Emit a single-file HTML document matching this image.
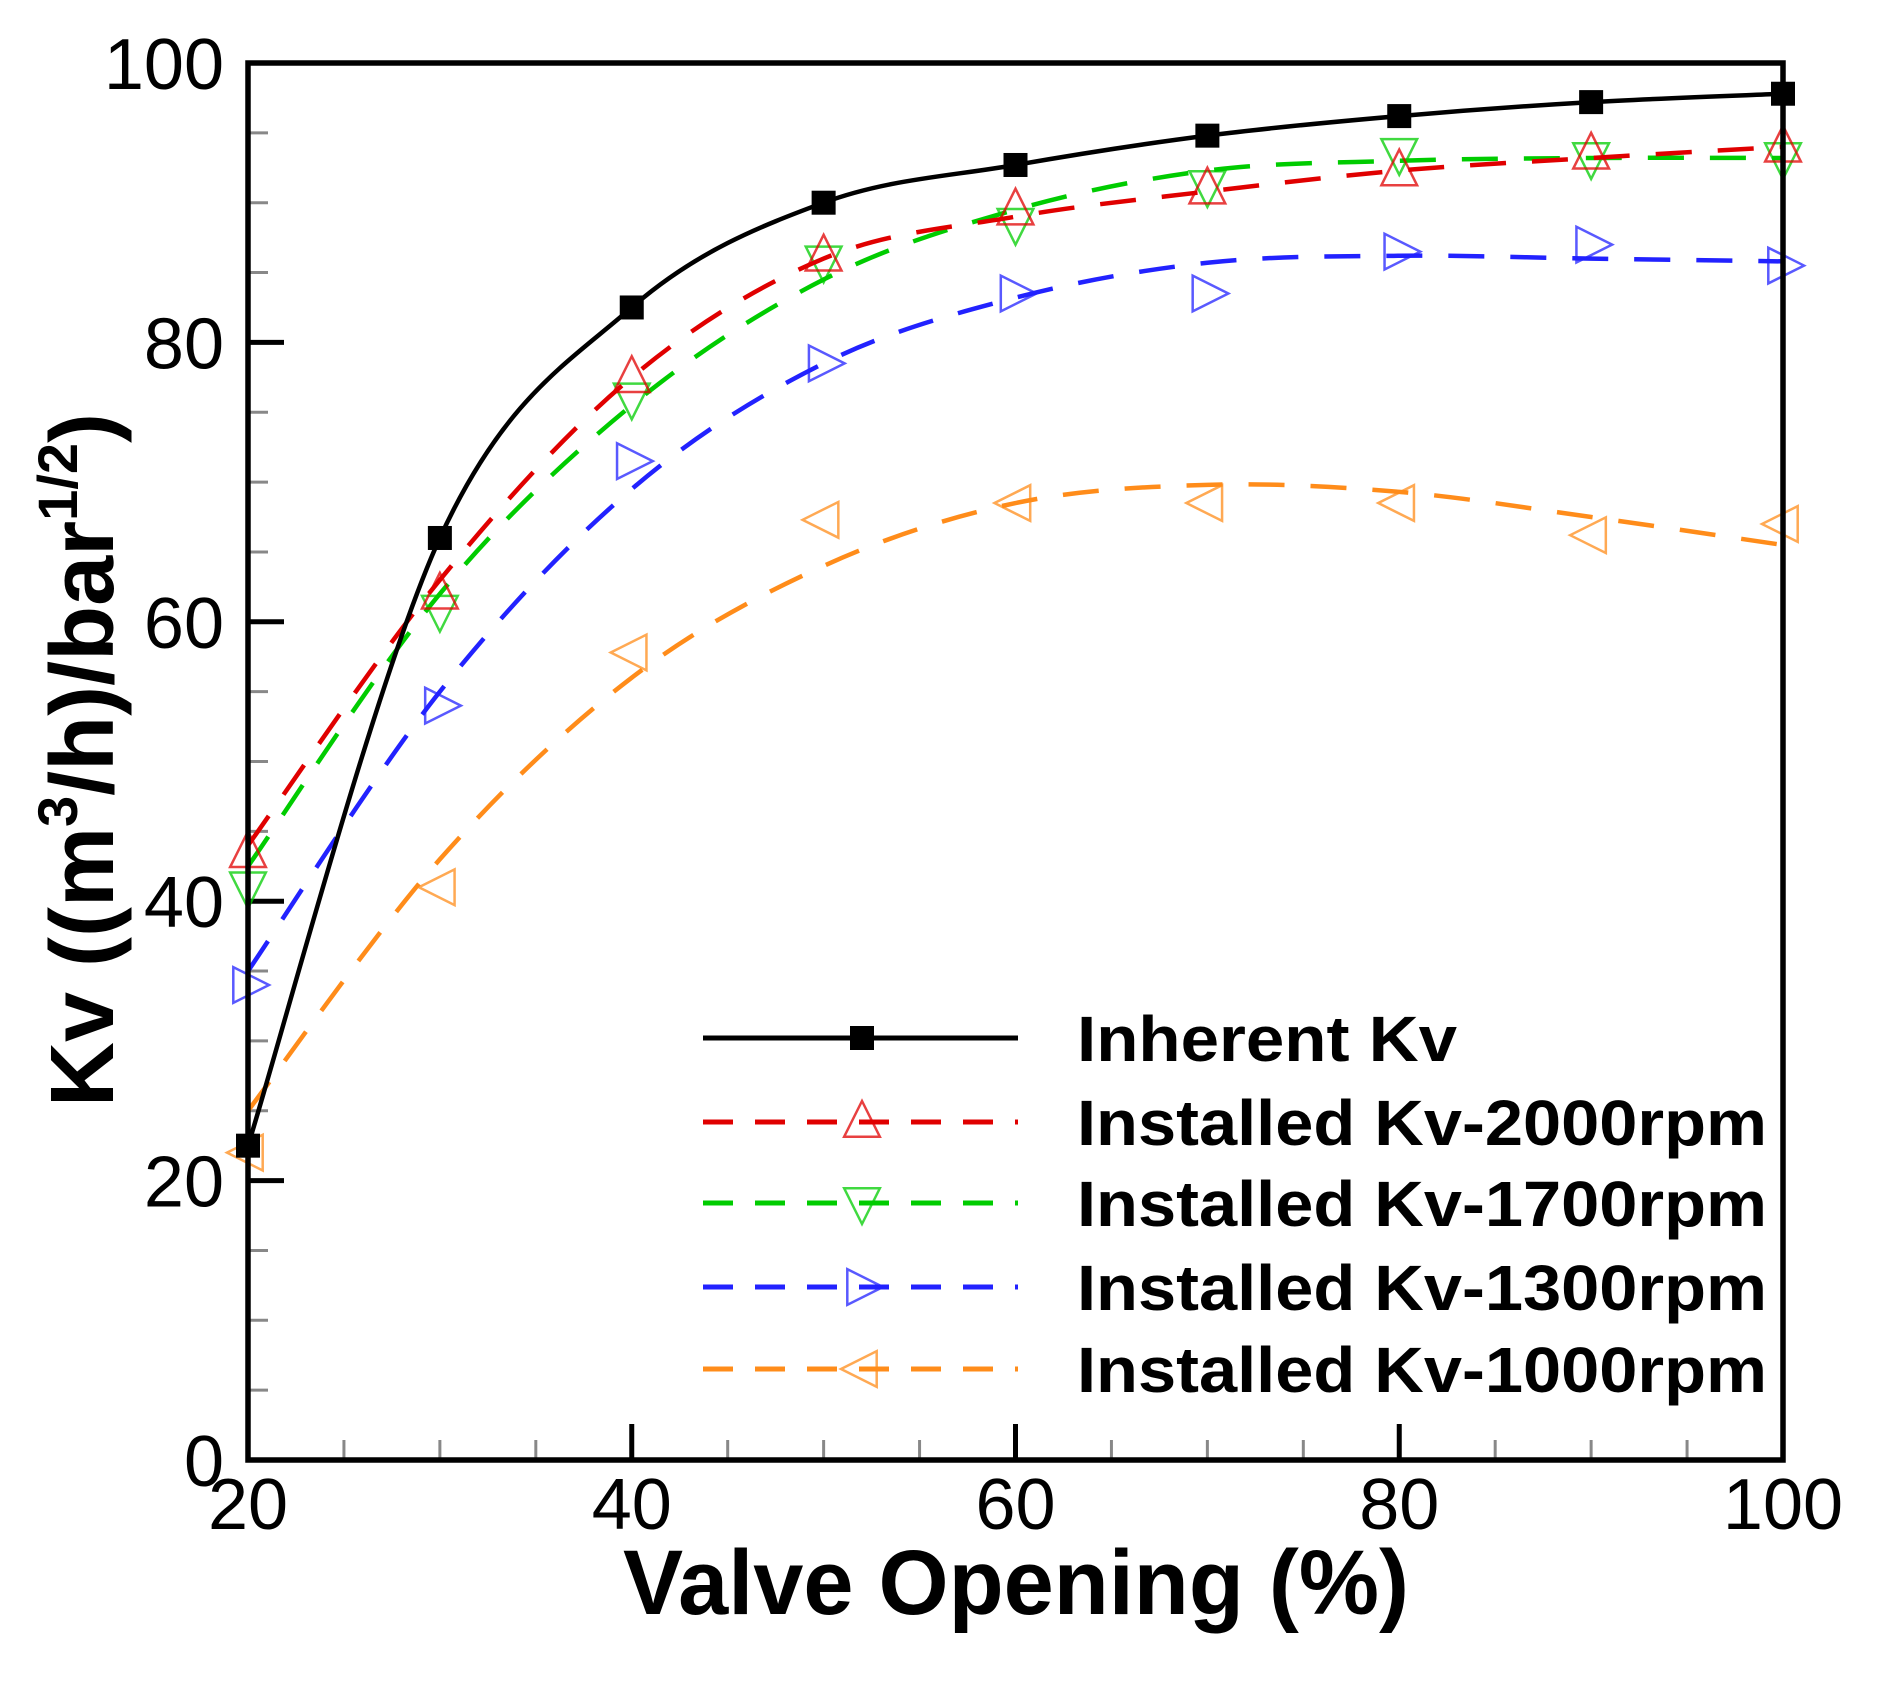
<!DOCTYPE html>
<html><head><meta charset="utf-8"><style>
html,body{margin:0;padding:0;background:#fff;}
svg{display:block;font-family:"Liberation Sans",Arial,sans-serif;}
</style></head><body>
<svg id="chart" width="1892" height="1686" viewBox="0 0 1892 1686" xmlns="http://www.w3.org/2000/svg">
<g id="grid-ticks"></g>
<g id="series"></g>
<rect x="248" y="63" width="1535" height="1397" fill="none" stroke="#000" stroke-width="5.5"/>
<g id="labels"></g>
<text x="1016" y="1614" font-size="92" font-weight="bold" text-anchor="middle" textLength="786" lengthAdjust="spacingAndGlyphs">Valve Opening (%)</text>
<text transform="translate(113,760) rotate(-90)" font-size="90" font-weight="bold" text-anchor="middle">Kv ((m<tspan font-size="56" dy="-36">3</tspan><tspan dy="36">/h)/bar</tspan><tspan font-size="56" dy="-36">1/2</tspan><tspan dy="36">)</tspan></text>
<g id="legend"></g>
</svg>
<script>
const xCategories=[20,30,40,50,60,70,80,90,100];
const xTicks=[20,40,60,80,100];
const yTicks=[0,20,40,60,80,100];
const seriesNames=["Inherent Kv","Installed Kv-2000rpm","Installed Kv-1700rpm","Installed Kv-1300rpm","Installed Kv-1000rpm"];
const inherentKv=[22.5,66,82.5,90,92.7,94.8,96.2,97.2,97.8];
const kv2000=[43.5,62,77.5,86.2,89.5,91,92.3,93.5,94];
const kv1700=[41,60.8,76,85.8,88.5,91.2,93.5,93.2,93.2];
const kv1300=[34,54,71.5,78.5,83.5,83.5,86.5,87,85.5];
const kv1000=[22,41,57.8,67.3,68.5,68.5,68.5,66.2,67];
const fit2000=[44,63,77.5,86,89,90.8,92.3,93.2,94];
const fit1700=[42.5,62,75.5,84.5,89.5,92.3,93,93.2,93.2];
const fit1300=[35,55,69.5,78.5,83.2,85.7,86.2,86,85.8];
const fit1000=[25,43,56,64,68.5,69.8,69.3,67.5,65.5];

const NS="http://www.w3.org/2000/svg";
const X0=248,X1=1783,Y0=1460,Y1=63;
function xs(v){return X0+(v-20)/80*(X1-X0);}
function ys(v){return Y0-v/100*(Y0-Y1);}
function mk(tag,attrs,parent){const e=document.createElementNS(NS,tag);for(const k in attrs)e.setAttribute(k,attrs[k]);parent.appendChild(e);return e;}
const gT=document.getElementById('grid-ticks'),gS=document.getElementById('series'),gL=document.getElementById('labels'),gLeg=document.getElementById('legend');

for(let v=25;v<100;v+=5){const major=v%20===0;const l=mk('line',{x1:xs(v),x2:xs(v),y1:Y0,y2:Y0-(major?36:20),stroke:major?'#000':'#888','stroke-width':major?5:3},gT);

}
for(let v=5;v<100;v+=5){const major=v%20===0;const l=mk('line',{x1:X0,x2:X0+(major?36:20),y1:ys(v),y2:ys(v),stroke:major?'#000':'#888','stroke-width':major?5:3},gT);

}
xTicks.forEach(v=>{const t=mk('text',{x:xs(v),y:1529,'font-size':72,'text-anchor':'middle'},gL);t.textContent=v;

});
yTicks.forEach(v=>{const t=mk('text',{x:224,y:ys(v)+26,'font-size':72,'text-anchor':'end'},gL);t.textContent=v;

});

function pathD(vals){const p=vals.map((v,i)=>[xs(xCategories[i]),ys(v)]);let d='M'+p[0][0]+','+p[0][1];
for(let i=0;i<p.length-1;i++){const a=p[i-1]||p[i],b=p[i],c=p[i+1],e=p[i+2]||c;
const c1=[b[0]+(c[0]-a[0])/6,b[1]+(c[1]-a[1])/6],c2=[c[0]-(e[0]-b[0])/6,c[1]-(e[1]-b[1])/6];
d+=' C'+c1[0]+','+c1[1]+' '+c2[0]+','+c2[1]+' '+c[0]+','+c[1];}return d;}
function marker(type,cx,cy,color,parent){const s=21;let pts;
if(type==='square'){return mk('rect',{x:cx-12,y:cy-12,width:24,height:24,fill:'#000'},parent);}
if(type==='up')pts=[[cx,cy-s],[cx-s*0.85,cy+s*0.7],[cx+s*0.85,cy+s*0.7]];
if(type==='down')pts=[[cx,cy+s],[cx-s*0.85,cy-s*0.7],[cx+s*0.85,cy-s*0.7]];
if(type==='right')pts=[[cx+s,cy],[cx-s*0.7,cy-s*0.85],[cx-s*0.7,cy+s*0.85]];
if(type==='left')pts=[[cx-s,cy],[cx+s*0.7,cy-s*0.85],[cx+s*0.7,cy+s*0.85]];
return mk('polygon',{points:pts.map(p=>p.join(',')).join(' '),fill:'none',stroke:color,'stroke-width':2.5,opacity:0.75},parent);}

const defs=[
 {name:'inherent',fit:inherentKv,pts:inherentKv,color:'#000',m:'square',dash:null},
 {name:'2000rpm',fit:fit2000,pts:kv2000,color:'#e00000',m:'up',dash:'36 26'},
 {name:'1700rpm',fit:fit1700,pts:kv1700,color:'#00cc00',m:'down',dash:'36 26'},
 {name:'1300rpm',fit:fit1300,pts:kv1300,color:'#2222ff',m:'right',dash:'36 26'},
 {name:'1000rpm',fit:fit1000,pts:kv1000,color:'#ff8c1a',m:'left',dash:'36 26'}];
defs.slice().reverse().forEach(s=>{
 const g=mk('g',{},gS);
 
 
 const a={d:pathD(s.fit),fill:'none',stroke:s.color,'stroke-width':s.dash?4.5:4.5};if(s.dash)a['stroke-dasharray']=s.dash;
 const p=mk('path',a,g);
 
 
 s.pts.forEach((v,i)=>{const m=marker(s.m,xs(xCategories[i]),ys(v),s.color,g);
  
  });
});
const legY=[1038,1122,1203,1287,1369];
const legW=[380,690,690,690,690];
defs.forEach((s,i)=>{const g=mk('g',{},gLeg);
 
 
 const a={x1:703,x2:1018,y1:legY[i],y2:legY[i],stroke:s.color,'stroke-width':s.dash?5:5};if(s.dash){a['stroke-dasharray']='30 22';}
 mk('line',a,g);
 marker(s.m,862,legY[i],s.color,g);
 const t=mk('text',{x:1077,y:legY[i]+23,'font-size':64,'font-weight':'bold',textLength:legW[i],lengthAdjust:'spacingAndGlyphs'},g);t.textContent=seriesNames[i];
 
 
});
</script>
</body></html>
